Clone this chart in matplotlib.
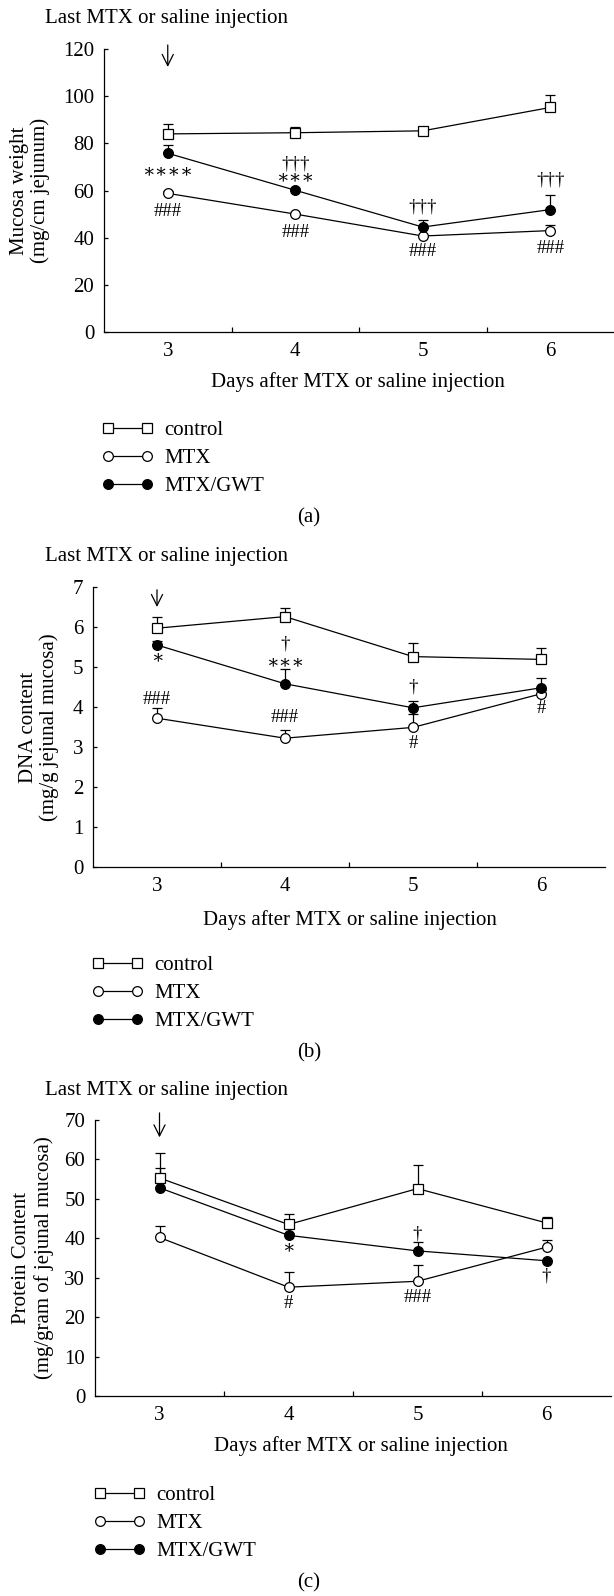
import numpy as np
import matplotlib
matplotlib.use("Agg")
import matplotlib.pyplot as plt

plt.rcParams['font.family'] = ['Liberation Serif', 'DejaVu Serif']

days = [3, 4, 5, 6]
day_labels = ['3', '4', '5', '6']
labels = ['control', 'MTX', 'MTX/GWT']

# (a) mucosa weight, mg/cm jejunum
control_a = [84.0, 84.5, 85.3, 95.2]
control_a_err = [4.3, 2.5, 0.8, 5.3]
mtx_a = [58.8, 50.0, 40.7, 43.0]
mtx_a_err = [0.8, 0.5, 0.5, 2.4]
gwt_a = [75.8, 60.1, 44.5, 51.9]
gwt_a_err = [3.6, 0.8, 3.0, 6.3]
notes_a = [(3, 68, '∗∗∗∗'), (3, 51, '###'), (4, 71.2, '†††'), (4, 65.3, '∗∗∗'),
           (4, 42, '###'), (5, 53, '†††'), (5, 34, '###'), (6, 64.5, '†††'), (6, 35.5, '###')]

# (b) DNA content, mg/g jejunal mucosa
control_b = [5.97, 6.26, 5.26, 5.19]
control_b_err = [0.27, 0.21, 0.35, 0.29]
mtx_b = [3.72, 3.22, 3.49, 4.33]
mtx_b_err = [0.25, 0.20, 0.34, 0.10]
gwt_b = [5.55, 4.58, 3.98, 4.48]
gwt_b_err = [0.10, 0.36, 0.17, 0.24]
notes_b = [(3, 5.24, '∗'), (3, 4.2, '###'), (4, 5.58, '†'), (4, 5.1, '∗∗∗'),
           (4, 3.75, '###'), (5, 4.5, '†'), (5, 3.08, '#'), (6, 3.96, '#')]

# (c) protein content, mg/gram of jejunal mucosa
control_c = [55.3, 43.5, 52.6, 43.9]
control_c_err = [6.3, 2.7, 6.1, 1.4]
mtx_c = [40.2, 27.6, 29.1, 37.75]
mtx_c_err = [2.8, 3.8, 4.1, 1.75]
gwt_c = [52.8, 40.75, 36.8, 34.3]
gwt_c_err = [5.0, 0.5, 2.3, 0.3]
notes_c = [(4, 37.6, '∗'), (4, 23.5, '#'), (5, 41.2, '†'), (5, 24.9, '###'), (6, 30.5, '†')]

W, H = 614, 1596
fs = 15
fig = plt.figure(figsize=(W / 100, H / 100), dpi=100)


def box(l, t, r, b):
    return [l / W, 1 - b / H, (r - l) / W, (b - t) / H]


def panel(rect, ymax, ystep, series, notes, arrow, ylabel, ylab_x, xlab_x, xlab_y,
          title_y, leg_x, leg_y, tag, tag_y):
    ax = fig.add_axes(box(*rect))
    handles = []
    for vals, errs, mk, fc in series:
        ax.errorbar(days, vals, yerr=[np.zeros(len(errs)), errs], fmt='none', ecolor='black',
                    elinewidth=0.9, capsize=3.6, capthick=0.9, zorder=2)
        ln, = ax.plot(days, vals, color='black', lw=0.9, marker=mk, ms=7, mfc=fc,
                      mec='black', mew=0.9, zorder=3)
        handles.append(ln)
    for d, y, s in notes:
        ax.text(d, y, s, ha='center', va='center', fontsize=13.5)
    ax.annotate('', xy=(3, arrow[1]), xytext=(3, arrow[0]), annotation_clip=False,
                arrowprops=dict(arrowstyle='->,head_length=0.8,head_width=0.4', color='black',
                                lw=0.9, shrinkA=0, shrinkB=0))
    ax.set_xlim(2.5, 6.5)
    ax.set_ylim(0, ymax)
    ax.set_yticks(np.arange(0, ymax + ystep / 2, ystep))
    ax.set_xticks([3.5, 4.5, 5.5])
    ax.set_xticklabels([])
    ax.set_xticks(days, minor=True)
    ax.set_xticklabels(day_labels, minor=True)
    ax.tick_params(axis='x', which='major', direction='in', length=3.5, width=0.9)
    ax.tick_params(axis='x', which='minor', length=0, pad=7, labelsize=fs)
    ax.tick_params(axis='y', direction='in', length=3, width=0.9, pad=7, labelsize=fs)
    ax.spines['top'].set_visible(False)
    ax.spines['right'].set_visible(False)
    ax.spines['left'].set_linewidth(0.9)
    ax.spines['bottom'].set_linewidth(0.9)
    yc = (rect[1] + rect[3]) / 2
    fig.text(ylab_x / W, 1 - yc / H, ylabel, rotation=90, ha='center', va='center',
             fontsize=fs, multialignment='center', linespacing=1.15)
    fig.text(xlab_x / W, 1 - xlab_y / H, 'Days after MTX or saline injection',
             ha='center', va='center', fontsize=fs)
    fig.text(45 / W, 1 - title_y / H, 'Last MTX or saline injection', ha='left', va='center',
             fontsize=fs)
    fig.legend(handles, labels, loc='upper left', bbox_to_anchor=(leg_x / W, 1 - leg_y / H),
               frameon=False, numpoints=2, handlelength=2.48, handletextpad=0.52,
               labelspacing=0.41, borderpad=0, borderaxespad=0, fontsize=fs)
    fig.text(309 / W, 1 - tag_y / H, tag, ha='center', va='center', fontsize=fs)
    return ax


panel((104, 49, 614, 332), 120, 20,
      [(control_a, control_a_err, 's', 'white'), (mtx_a, mtx_a_err, 'o', 'white'),
       (gwt_a, gwt_a_err, 'o', 'black')],
      notes_a, (121.7, 112.4), 'Mucosa weight\n(mg/cm jejunum)', 30, 358, 382, 19,
      101.75, 420.5, '(a)', 518)

panel((93, 587, 605, 867), 7, 1,
      [(control_b, control_b_err, 's', 'white'), (mtx_b, mtx_b_err, 'o', 'white'),
       (gwt_b, gwt_b_err, 'o', 'black')],
      notes_b, (6.93, 6.5), 'DNA content\n(mg/g jejunal mucosa)', 39, 350, 920, 557,
      91.75, 955.5, '(b)', 1053)

panel((95, 1120, 611, 1396), 70, 10,
      [(control_c, control_c_err, 's', 'white'), (mtx_c, mtx_c_err, 'o', 'white'),
       (gwt_c, gwt_c_err, 'o', 'black')],
      notes_c, (71.8, 65.6), 'Protein Content\n(mg/gram of jejunal mucosa)', 33, 361, 1446,
      1090, 93.75, 1485.5, '(c)', 1583)

fig.savefig('out.png', dpi=100)
